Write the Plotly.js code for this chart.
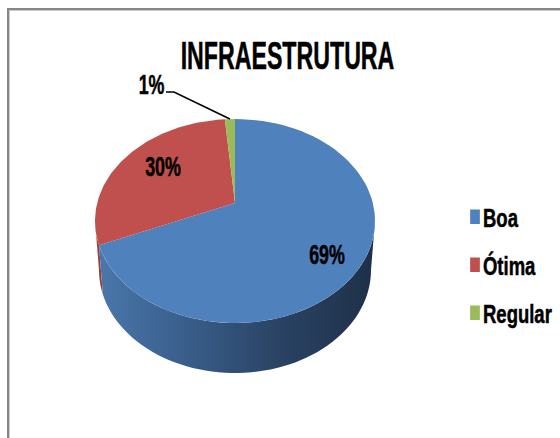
<!DOCTYPE html>
<html><head><meta charset="utf-8">
<script src="https://cdn.plot.ly/plotly-3.0.1.min.js"></script>
<style>html,body{margin:0;padding:0;background:#fff}#c{width:560px;height:438px}</style>
</head><body><div id="c"></div>
<script>
const titleText = 'INFRAESTRUTURA';
const categories = ['Boa', 'Ótima', 'Regular'];
const values = [68.6, 30.0, 1.4];
const colors = ['#4F81BD', '#C0504D', '#9BBB59'];
const FONT = '"Liberation Sans",sans-serif';

// tilted-pie projection (pixel-valued axes)
const cx = 235, cy = 221, rx = 140, ry = 102, apexY = 203;
const botCy = 270, botRx = 136, botRy = 103;
const tilt = ry / rx;
const total = values.reduce((a, b) => a + b, 0);

function rim(t) { // t: clockwise from top, radians; ray from apex to top ellipse
  const dx = Math.sin(t), dy = -Math.cos(t) * tilt;
  const oy = apexY - cy;
  const A = dx * dx / (rx * rx) + dy * dy / (ry * ry);
  const B = 2 * oy * dy / (ry * ry);
  const C = oy * oy / (ry * ry) - 1;
  const s = (-B + Math.sqrt(B * B - 4 * A * C)) / (2 * A);
  return [cx + s * dx, apexY + s * dy];
}
function eAngle(p) { return Math.atan2((p[0] - cx) / rx, -(p[1] - cy) / ry); }
function norm(a) { return a < 0 ? a + 2 * Math.PI : a; }
function onTop(u) { return [cx + rx * Math.sin(u), cy - ry * Math.cos(u)]; }
function onBot(u) { return [cx + botRx * Math.sin(u), botCy - botRy * Math.cos(u)]; }
function wall(u0, u1) {
  const xs = [], ys = [], n = 60;
  for (let i = 0; i <= n; i++) { const p = onTop(u0 + (u1 - u0) * i / n); xs.push(p[0]); ys.push(p[1]); }
  for (let i = n; i >= 0; i--) { const p = onBot(u0 + (u1 - u0) * i / n); xs.push(p[0]); ys.push(p[1]); }
  xs.push(xs[0]); ys.push(ys[0]);
  return [xs, ys];
}

const traces = [];
const blueEnd = 2 * Math.PI * values[0] / total;
const uBlue = norm(eAngle(rim(blueEnd)));

// side walls
const w2 = wall(uBlue, 1.5 * Math.PI);
traces.push({ x: w2[0], y: w2[1], mode: 'none', fill: 'toself', fillcolor: '#9A3F3C', showlegend: false, hoverinfo: 'skip' });
const w1 = wall(Math.PI / 2, uBlue);
traces.push({
  x: w1[0], y: w1[1], mode: 'none', fill: 'toself', showlegend: false, hoverinfo: 'skip',
  fillgradient: { type: 'horizontal', colorscale: [[0, '#4A77AB'], [0.3, '#3A5F8C'], [0.65, '#2A4364'], [1, '#1E3048']] }
});

// top wedges
let acc = 0;
values.forEach((v, i) => {
  const a0 = 2 * Math.PI * acc / total, a1 = 2 * Math.PI * (acc + v) / total;
  const u0 = norm(eAngle(rim(a0))), u1raw = norm(eAngle(rim(a1)));
  const u1 = u1raw <= u0 ? u1raw + 2 * Math.PI : u1raw;
  const xs = [cx], ys = [apexY], n = 90;
  for (let k = 0; k <= n; k++) { const p = onTop(u0 + (u1 - u0) * k / n); xs.push(p[0]); ys.push(p[1]); }
  xs.push(cx); ys.push(apexY);
  traces.push({ x: xs, y: ys, mode: 'lines', line: { width: 0, color: colors[i] }, fill: 'toself', fillcolor: colors[i], showlegend: false, hoverinfo: 'skip' });
  acc += v;
});

// leader line for the smallest slice
const leaderEnd = rim(2 * Math.PI * (1 - values[2] / total / 2));
traces.push({ x: [166, 174, leaderEnd[0]], y: [92, 92, leaderEnd[1]], mode: 'lines', line: { color: '#000', width: 1.6 }, showlegend: false, hoverinfo: 'skip' });

// legend entries
categories.forEach((c, i) => {
  traces.push({ x: [null], y: [null], name: c, legendgroup: c, mode: 'markers', marker: { symbol: 'square', size: 14.5, color: colors[i] } });
});

const pct = values.map(v => Math.round(v / total * 100) + '%');
const labelPos = [[327, 255], [163, 167], [151, 85]];
const annotations = pct.map((t, i) => ({
  x: labelPos[i][0], y: labelPos[i][1], xref: 'x', yref: 'y', text: '<b>' + t + '</b>', showarrow: false,
  font: { family: FONT, size: 27, color: '#000' }
}));

const layout = {
  width: 560, height: 438, margin: { l: 0, r: 0, t: 0, b: 0, autoexpand: false }, paper_bgcolor: '#fff', plot_bgcolor: '#fff',
  title: { text: '<b>' + titleText + '</b>', font: { family: FONT, size: 38, color: '#000' }, x: 287.5 / 560, xanchor: 'center', y: 1 - 56 / 438, yanchor: 'middle', automargin: false },
  xaxis: { range: [0, 560], visible: false, fixedrange: true },
  yaxis: { range: [438, 0], visible: false, fixedrange: true },
  legend: { x: 455 / 560, xanchor: 'left', y: 1 - 265 / 438, yanchor: 'middle', tracegroupgap: 12.5, itemwidth: 30, font: { family: FONT, size: 25, color: '#000', weight: 700 }, bgcolor: 'rgba(0,0,0,0)' },
  annotations,
  shapes: [
    { type: 'line', xref: 'paper', yref: 'paper', x0: 7 / 560, x1: 1, y0: 1 - 9 / 438, y1: 1 - 9 / 438, line: { color: '#868686', width: 2 } },
    { type: 'line', xref: 'paper', yref: 'paper', x0: 8 / 560, x1: 8 / 560, y0: 1 - 9 / 438, y1: 0, line: { color: '#868686', width: 2 } },
    { type: 'line', xref: 'paper', yref: 'paper', x0: 9 / 560, x1: 1, y0: 1 - 10.5 / 438, y1: 1 - 10.5 / 438, line: { color: '#cccccc', width: 1 } },
    { type: 'line', xref: 'paper', yref: 'paper', x0: 9.5 / 560, x1: 9.5 / 560, y0: 1 - 10 / 438, y1: 0, line: { color: '#cccccc', width: 1 } }
  ]
};

// The reference uses a narrow bold face: condense the real text elements horizontally.
function condense(sel, sx, anchor, shift) {
  document.querySelectorAll(sel).forEach(el => {
    const b = el.getBBox();
    const ox = anchor === 'left' ? b.x : b.x + b.width / 2;
    const prev = el.getAttribute('transform') || '';
    el.setAttribute('transform', prev + ' translate(' + (ox + (shift || 0)) + ',0) scale(' + sx + ',1) translate(' + (-ox) + ',0)');
    el.style.stroke = '#000';
    el.style.strokeWidth = '0.5px';
  });
}
Plotly.newPlot('c', traces, layout, { displayModeBar: false, staticPlot: true }).then(() => {
  condense('#c .gtitle', 0.61, 'mid');
  condense('#c .annotation-text', 0.66, 'mid');
  condense('#c .legendtext', 0.74, 'left', -12);
  document.querySelectorAll('#c .legend .scrollbox').forEach(el => el.removeAttribute('clip-path'));
  document.querySelectorAll('#c .legendpoints path').forEach(el => {
    el.setAttribute('transform', (el.getAttribute('transform') || '') + ' scale(0.67,1)');
  });
});
</script></body></html>
